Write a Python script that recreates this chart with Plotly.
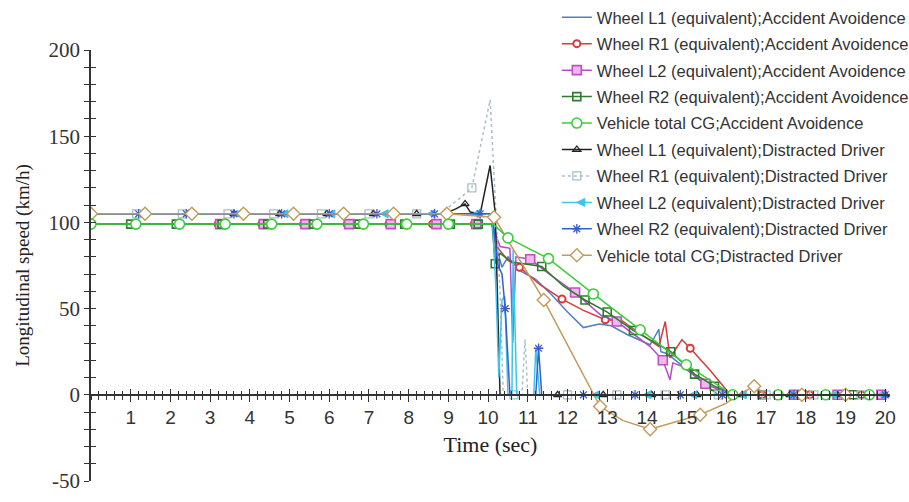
import plotly.graph_objects as go

# ---------------- data ----------------
t_L1_AA = [0, 10.1, 10.2, 10.35, 10.5, 10.8, 11.2, 11.6, 12.0, 12.4, 12.8, 13.1, 13.5, 14.08, 14.3, 14.35, 14.5, 15.1, 15.5, 15.8, 20]
v_L1_AA = [99, 99, 86, 74, 80, 72, 67, 58, 48, 39, 41, 40, 35, 29, 38, 25, 24, 13, 5, 0, 0]
mk_L1_AA = []

t_R1_AA = [0, 3.2, 4.3, 5.35, 6.45, 7.5, 8.6, 9.65, 10.1, 10.25, 10.5, 10.79, 11.3, 11.86, 12.4, 12.95, 13.37, 13.8,
           14.3, 14.46, 14.58, 14.88, 15.09, 15.6, 16.1, 16.9, 18.1, 19.4, 20]
v_R1_AA = [99, 99, 99, 99, 99, 99, 99, 99, 99, 85, 78, 74, 64, 55.5, 49, 43.5, 43, 36,
           28, 42.5, 21.5, 32, 27, 14, 0, 0, 0, 0, 0]
mk_R1_AA = [3.2, 4.3, 5.35, 6.45, 7.5, 8.6, 9.65, 10.79, 11.86, 12.95, 15.09, 16.9, 18.1, 19.4]

t_L2_AA = [0, 3.25, 4.35, 5.4, 6.5, 7.55, 8.7, 9.7, 10.1, 10.3, 10.55, 10.62, 10.7, 11.06, 11.6, 12.19, 12.85, 13.24,
           14.08, 14.4, 14.58, 14.65, 14.9, 15.47, 15.84, 16.1, 17.7, 18.8, 19.9, 20]
v_L2_AA = [99, 99, 99, 99, 99, 99, 99, 99, 99, 86, 85, 30, 80, 78.6, 69, 59.3, 46, 42.5,
           28, 20, 8.7, 18.5, 16.4, 6.4, 2.9, 0, 0, 0, 0, 0]
mk_L2_AA = [3.25, 4.35, 5.4, 6.5, 7.55, 8.7, 9.7, 11.06, 12.19, 13.24, 14.4, 15.47, 17.7, 18.8, 19.9]

t_R2_AA = [0, 1.0, 2.15, 3.3, 4.45, 5.6, 6.75, 7.9, 9.05, 9.75, 10.1, 10.18, 10.3, 10.6, 11.35, 11.9, 12.44, 13.0,
           13.66, 14.3, 14.6, 15.2, 15.7, 16.2, 16.9, 17.9, 19.2, 20]
v_R2_AA = [99, 99, 99, 99, 99, 99, 99, 99, 99, 99, 99, 76, 82, 77, 74.4, 63, 55, 48,
           37.3, 29, 25, 12, 5, 0, 0, 0, 0, 0]
mk_R2_AA = [1.0, 2.15, 3.3, 4.45, 5.6, 6.75, 7.9, 9.05, 9.75, 10.18, 11.35, 12.44, 13.0, 13.66, 14.6, 15.2, 15.7,
            16.9, 17.9, 19.2]

t_CG_AA = [0, 1.13, 2.23, 3.38, 4.55, 5.69, 6.86, 7.95, 9.0, 10.13, 10.5, 11.52, 12.65, 13.83, 14.99, 16.16, 17.3,
           18.5, 19.6, 20]
v_CG_AA = [99, 99, 99, 99, 99, 99, 99, 99, 99, 99, 91, 79, 58.5, 37.7, 17.4, 0, 0, 0, 0, 0]
mk_CG_AA = [0, 1.13, 2.23, 3.38, 4.55, 5.69, 6.86, 7.95, 9.0, 10.5, 11.52, 12.65, 13.83, 14.99, 16.16, 17.3, 18.5, 19.6]

t_L1_DD = [0, 1.3, 2.45, 3.6, 4.75, 5.94, 7.11, 8.2, 8.9, 9.2, 9.42, 9.55, 9.8, 10.05, 10.18, 10.3,
           11.75, 12.9, 14.12, 15.26, 16.4, 17.6, 18.8, 20]
v_L1_DD = [105, 105, 105, 105, 105, 105, 105, 105, 105, 108, 110.7, 106, 105, 133, 105, 0,
           0, 0, 0, 0, 0, 0, 0, 0]
mk_L1_DD = [1.3, 2.45, 3.6, 4.75, 5.94, 7.11, 8.2, 9.42, 11.75, 12.9, 14.12, 15.26, 16.4, 17.6, 18.8, 20]

t_R1_DD = [0, 1.15, 2.3, 3.45, 4.6, 5.8, 7.0, 8.2, 8.8, 9.34, 9.59, 10.05, 10.2, 10.3, 10.38, 10.65, 10.85, 10.93,
           11.0, 12.0, 13.24, 14.46, 15.8, 17.0, 18.2, 19.4, 20]
v_R1_DD = [105, 105, 105, 105, 105, 105, 105, 105, 105, 115, 120, 171, 105, 60, 0, 0, 0, 32,
           0, 0, 0, 0, 0, 0, 0, 0, 0]
mk_R1_DD = [1.15, 2.3, 3.45, 4.6, 5.8, 7.0, 8.2, 9.59, 10.65, 12.0, 13.24, 14.46, 15.8, 17.0, 18.2, 19.4]

t_L2_DD = [0, 1.19, 2.41, 3.58, 4.76, 5.94, 7.28, 8.46, 9.6, 10.1, 10.2, 10.27, 10.35, 10.42, 10.5, 10.6, 10.63,
           10.72, 11.15, 11.2, 11.3, 12.6, 13.9, 15.05, 16.3, 17.5, 18.6, 19.8, 20]
v_L2_DD = [105, 105, 105, 105, 105, 105, 105, 105, 105, 105, 60, 10, 55, 57, 0, 0, 84,
           0, 0, 27, 0, 0, 0, 0, 0, 0, 0, 0, 0]
mk_L2_DD = [1.19, 2.41, 3.58, 4.76, 5.94, 7.28, 8.46, 9.6, 12.6, 13.9, 15.05, 16.3, 17.5, 18.6, 19.8]

t_R2_DD = [0, 1.2, 2.4, 3.6, 4.8, 6.0, 7.2, 8.65, 9.8, 10.1, 10.25, 10.35, 10.43, 10.55, 11.2, 11.27, 11.35,
           12.4, 13.7, 14.84, 15.9, 17.7, 20]
v_R2_DD = [105, 105, 105, 105, 105, 105, 105, 105, 105, 105, 75, 70, 50, 0, 0, 27, 0,
           0, 0, 0, 0, 0, 0]
mk_R2_DD = [1.2, 2.4, 3.6, 4.8, 6.0, 7.2, 8.65, 9.8, 10.43, 11.27, 12.4, 13.7, 14.84, 15.9, 17.7, 20]

t_CG_DD = [0, 1.36, 2.54, 3.84, 5.1, 6.36, 7.62, 8.96, 10.15, 11.4, 12.82, 13.4, 14.08, 15.34, 16.0, 16.3, 16.7,
           17.0, 17.9, 19.0, 20]
v_CG_DD = [105, 105, 105, 105, 105, 105, 105, 105, 103, 55, -6.8, -15, -20, -11.6, -4.8, 0, 5,
           0, 0, 0, 0]
mk_CG_DD = [0, 1.36, 2.54, 3.84, 5.1, 6.36, 7.62, 8.96, 10.15, 11.4, 12.82, 14.08, 15.34, 16.7, 17.9, 19.0]

names = [
    "Wheel L1 (equivalent);Accident Avoidence",
    "Wheel R1 (equivalent);Accident Avoidence",
    "Wheel L2 (equivalent);Accident Avoidence",
    "Wheel R2 (equivalent);Accident Avoidence",
    "Vehicle total CG;Accident Avoidence",
    "Wheel L1 (equivalent);Distracted Driver",
    "Wheel R1 (equivalent);Distracted Driver",
    "Wheel L2 (equivalent);Distracted Driver",
    "Wheel R2 (equivalent);Distracted Driver",
    "Vehicle total CG;Distracted Driver",
]
x_ticks = list(range(1, 21))
y_ticks = [-50, 0, 50, 100, 150, 200]

# ---------------- styles ----------------
SANS = "Liberation Sans, Arial, sans-serif"
SERIF = "Liberation Serif, Times New Roman, serif"
AX = "#333333"

styles = [
    dict(color="#4f7fc4", symbol=None),
    dict(color="#d43c3c", symbol="circle", size=7, fill="#ffffff", lw=2),
    dict(color="#b44cc8", symbol="square", size=9, fill="#f0b8f0", lw=1.6, mcolor="#c050c0"),
    dict(color="#2f7a2f", symbol="square-open", size=8, lw=1.6),
    dict(color="#3ccc3c", symbol="circle", size=10, fill="#ffffff", lw=1.6),
    dict(color="#222222", symbol="triangle-up-open", size=7, lw=1.3),
    dict(color="#a9bfca", symbol="square-open", size=8, lw=1.3, dash="dot"),
    dict(color="#3cc4ea", symbol="arrow-left", size=8, lw=1.0),
    dict(color="#3a5ccc", symbol="asterisk-open", size=8, lw=1.3),
    dict(color="#c39a5c", symbol="diamond", size=10, fill="#ffffff", lw=1.4),
]

series = [
    (t_L1_AA, v_L1_AA, mk_L1_AA),
    (t_R1_AA, v_R1_AA, mk_R1_AA),
    (t_L2_AA, v_L2_AA, mk_L2_AA),
    (t_R2_AA, v_R2_AA, mk_R2_AA),
    (t_CG_AA, v_CG_AA, mk_CG_AA),
    (t_L1_DD, v_L1_DD, mk_L1_DD),
    (t_R1_DD, v_R1_DD, mk_R1_DD),
    (t_L2_DD, v_L2_DD, mk_L2_DD),
    (t_R2_DD, v_R2_DD, mk_R2_DD),
    (t_CG_DD, v_CG_DD, mk_CG_DD),
]

draw_order = [0, 1, 2, 3, 6, 5, 7, 8, 9, 4]

fig = go.Figure()
for k in draw_order:
    ts, vs, mks = series[k]
    st = styles[k]
    line = dict(color=st["color"], width=1.5, dash=st.get("dash", "solid"))
    if st["symbol"] is None:
        fig.add_trace(go.Scatter(x=ts, y=vs, mode="lines", name=names[k], line=line,
                                 legendrank=k + 1, legendgroup=str(k)))
        continue
    sel = [i for i, tv in enumerate(ts) if any(abs(tv - m) < 1e-9 for m in mks)]
    mcol = st.get("mcolor", st["color"])
    marker = dict(symbol=st["symbol"], size=st["size"],
                  color=st.get("fill", mcol),
                  line=dict(color=mcol, width=st["lw"]))
    fig.add_trace(go.Scatter(
        x=ts, y=vs, mode="lines+markers", name=names[k], line=line, marker=marker,
        selectedpoints=sel, selected=dict(marker=dict(opacity=1)),
        unselected=dict(marker=dict(opacity=0)),
        legendrank=k + 1, legendgroup=str(k)))

# dummy trace for the overlay axes that give crossing ticks
fig.add_trace(go.Scatter(x=[None], y=[None], xaxis="x2", yaxis="y2", showlegend=False,
                         hoverinfo="skip"))

XR = [0, 20.12]
YR = [-50, 200]
ypos0 = (0 - YR[0]) / (YR[1] - YR[0])

fig.update_layout(
    width=909, height=502,
    margin=dict(l=91, r=19, t=50, b=21, autoexpand=False),
    paper_bgcolor="white", plot_bgcolor="white",
    showlegend=True,
    legend=dict(x=0.583, xanchor="left", y=1.0, yref="container", yanchor="top",
                maxheight=400,
                font=dict(family=SANS, size=16.5, color="#333333"),
                bgcolor="rgba(0,0,0,0)", tracegroupgap=2, itemwidth=30),
    xaxis=dict(range=XR, anchor="free", position=ypos0, showline=True, linecolor=AX, linewidth=1.5,
               showgrid=False, zeroline=False, tickmode="array", tickvals=x_ticks,
               ticktext=[str(v) for v in x_ticks],
               ticks="outside", ticklen=6, tickwidth=1.3, tickcolor=AX,
               tickfont=dict(family=SANS, size=19, color="#333333"),
               minor=dict(tickmode="linear", tick0=0, dtick=0.2, ticks="outside", ticklen=4,
                          tickwidth=1.1, tickcolor=AX, showgrid=False),
               title=dict(text="Time (sec)", font=dict(family=SERIF, size=22, color="#222222"),
                          standoff=8),
               automargin=False, fixedrange=True),
    yaxis=dict(range=YR, showline=True, linecolor=AX, linewidth=1.5, showgrid=False, zeroline=False,
               tickmode="array", tickvals=y_ticks, ticktext=[str(v) for v in y_ticks],
               ticks="outside", ticklen=5, tickwidth=1.3, tickcolor=AX,
               tickfont=dict(family=SERIF, size=21, color="#333333"),
               minor=dict(tickmode="linear", tick0=0, dtick=10, ticks="outside", ticklen=5,
                          tickwidth=1.1, tickcolor=AX, showgrid=False),
               title=dict(text="Longitudinal speed (km/h)",
                          font=dict(family=SERIF, size=19, color="#222222"), standoff=14),
               automargin=False, fixedrange=True),
    xaxis2=dict(range=XR, overlaying="x", anchor="free", position=ypos0, showline=False,
                showgrid=False, zeroline=False, tickmode="array", tickvals=x_ticks,
                showticklabels=False, ticks="inside", ticklen=6, tickwidth=1.3, tickcolor=AX,
                minor=dict(tickmode="linear", tick0=0, dtick=0.2, ticks="inside", ticklen=4,
                           tickwidth=1.1, tickcolor=AX, showgrid=False),
                automargin=False, fixedrange=True),
    yaxis2=dict(range=YR, overlaying="y", anchor="x2", side="left", showline=False,
                showgrid=False, zeroline=False, tickmode="array", tickvals=y_ticks,
                showticklabels=False, ticks="inside", ticklen=5, tickwidth=1.3, tickcolor=AX,
                minor=dict(tickmode="linear", tick0=0, dtick=10, ticks="inside", ticklen=5,
                           tickwidth=1.1, tickcolor=AX, showgrid=False),
                automargin=False, fixedrange=True),
)

fig.write_html("out.html", config={"displayModeBar": False},
               post_script="document.body.style.margin='0';document.body.style.overflow='hidden';")
